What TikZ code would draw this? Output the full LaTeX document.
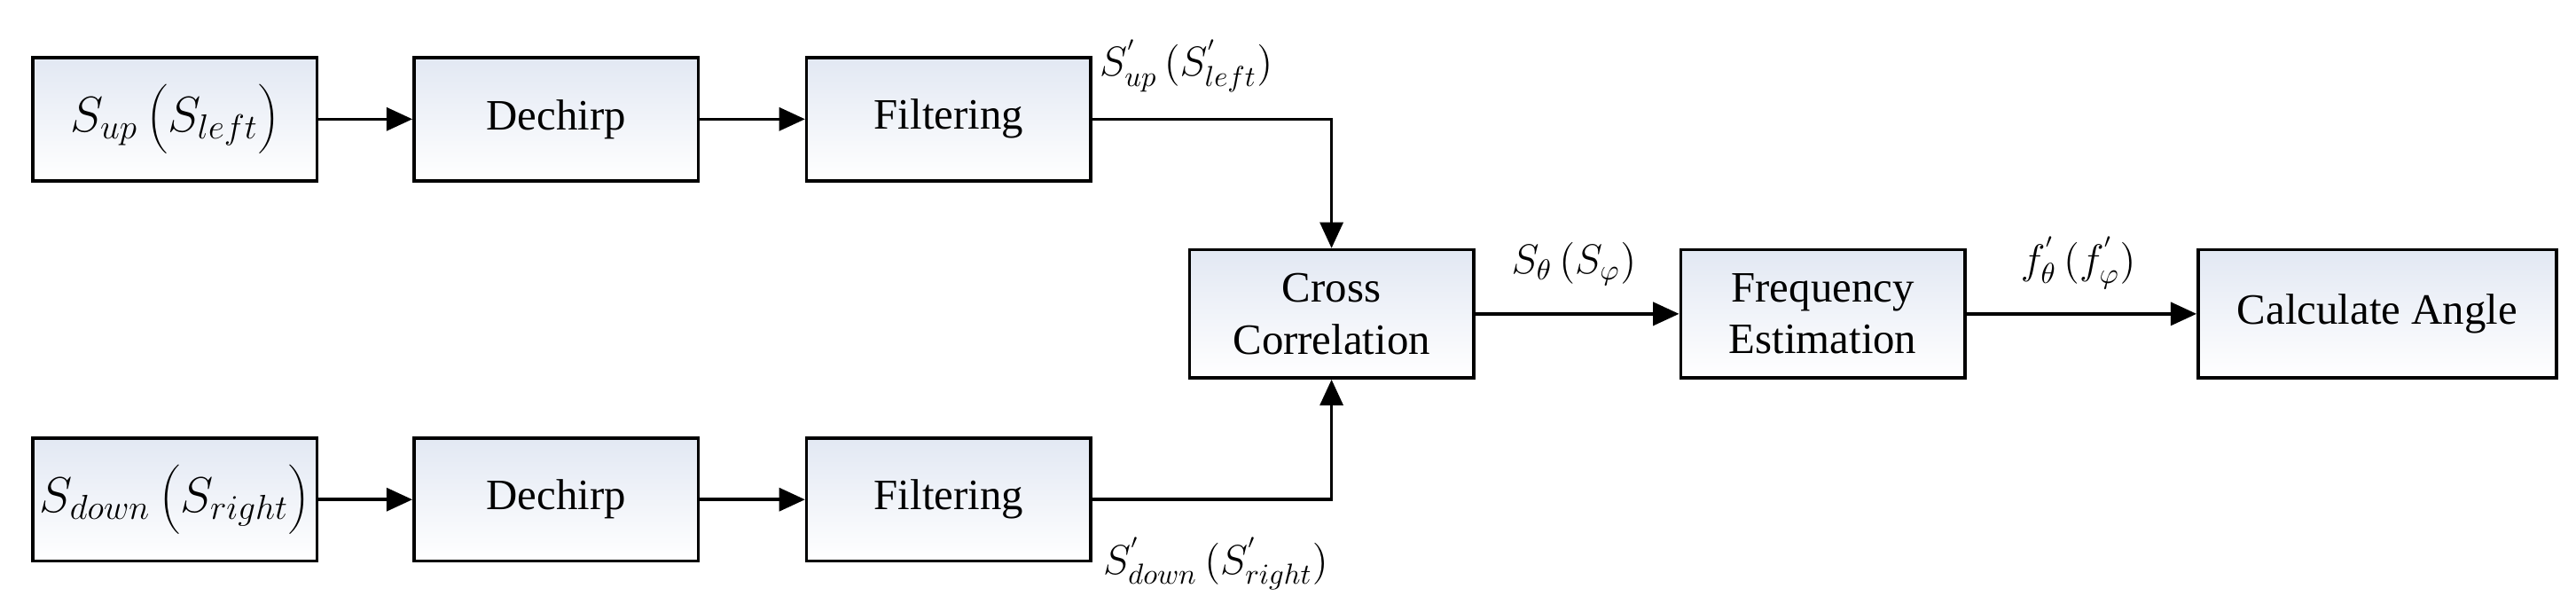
\documentclass[tikz,border=0pt]{standalone}
\usepackage{fontspec}
\setmainfont{Liberation Serif}
\usetikzlibrary{arrows.meta}
\definecolor{topc}{RGB}{226,232,243}
\begin{document}
\begin{tikzpicture}[x=0.02cm,y=-0.02cm,
  blk/.style={draw,line width=1.1pt,top color=topc,bottom color=white,minimum height=75*0.02cm,minimum width=173*0.02cm,inner sep=0pt,font=\fontsize{15}{18}\selectfont,align=center},
  big/.style={font=\fontsize{18}{22}\selectfont},
  arr/.style={line width=1.1pt,-{Triangle[length=9pt,width=8pt]}},
  lab/.style={font=\fontsize{14}{16}\selectfont}]
\useasboundingbox (0,0) rectangle (1568,372);
\node[blk,big] (a1) at (106.5,72.5) {$S_{up}\,\biggl(S_{left}\biggr)$};
\node[blk] (d1) at (338.5,72.5) {Dechirp};
\node[blk] (f1) at (577.5,72.5) {Filtering};
\node[blk,big] (a2) at (106.5,304) {$S_{down}\,\biggl(S_{right}\biggr)$};
\node[blk] (d2) at (338.5,304) {Dechirp};
\node[blk] (f2) at (577.5,304) {Filtering};
\node[blk,minimum height=78*0.02cm] (cc) at (810.5,191) {Cross\\Correlation};
\node[blk,minimum height=78*0.02cm] (fe) at (1109.5,191) {Frequency\\Estimation};
\node[blk,minimum height=78*0.02cm,minimum width=218*0.02cm] (ca) at (1447,191) {Calculate Angle};
\draw[arr] (a1) -- (d1);
\draw[arr] (d1) -- (f1);
\draw[arr] (a2) -- (d2);
\draw[arr] (d2) -- (f2);
\draw[arr] (f1.east) -| (cc.north);
\draw[arr] (f2.east) -| (cc.south);
\draw[arr] (cc) -- (fe);
\draw[arr] (fe) -- (ca);
\node[lab] (l1) at (722,40) {$S^{'}_{up}\,\Bigl(S^{'}_{left}\Bigr)$};
\node[lab] (l2) at (740,343) {$S^{'}_{down}\,\Bigl(S^{'}_{right}\Bigr)$};
\node[lab] (l3) at (958,160) {$S_{\theta}\,\Bigl(S_{\varphi}\Bigr)$};
\node[lab] (l4) at (1265,160) {$f^{'}_{\theta}\,\Bigl(f^{'}_{\varphi}\Bigr)$};
\end{tikzpicture}
\end{document}
